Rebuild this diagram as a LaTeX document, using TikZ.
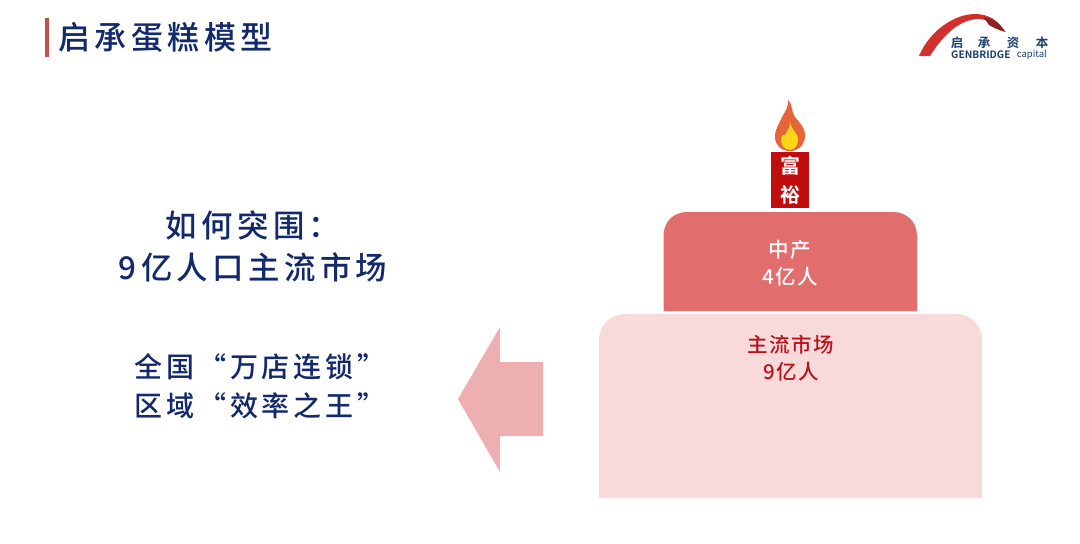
\documentclass[tikz,border=0pt]{standalone}
\usepackage{fontspec}
\setmainfont{Noto Sans CJK SC}[BoldFont={* Bold}]
\newfontfamily\cjkwide{Noto Sans CJK SC Medium}[LetterSpace=14]
\newfontfamily\cjkmid{Noto Sans CJK SC Medium}[LetterSpace=8]
\newfontfamily\cjkboldwide{Noto Sans CJK SC Medium}[LetterSpace=14]
\definecolor{navy}{HTML}{12296B}
\definecolor{logoblue}{HTML}{1B3F6E}
\definecolor{logored}{HTML}{D0312D}
\definecolor{logodark}{HTML}{8E2220}
\definecolor{barred}{HTML}{C8504C}
\definecolor{tiermid}{HTML}{E16D6C}
\definecolor{tierlow}{HTML}{F9DADA}
\definecolor{arrowpink}{HTML}{EEAFB0}
\definecolor{candle}{HTML}{C00D0D}
\definecolor{flameout}{HTML}{E8643A}
\definecolor{flamein}{HTML}{FBD615}
\definecolor{lowred}{HTML}{B5141C}
\tikzset{
  headline/.style={inner sep=0pt,text=navy,font=\fontsize{32}{32}\selectfont\cjkboldwide},
  bigtext/.style={inner sep=0pt,text=navy,align=center,font=\fontsize{31.4}{42}\selectfont\cjkboldwide},
  subtext/.style={inner sep=0pt,text=navy,align=center,font=\fontsize{28}{39}\selectfont\cjkwide},
  tierlabel/.style={inner sep=0pt,align=center,font=\fontsize{20.5}{27}\selectfont\cjkmid},
  logochar/.style={inner sep=0pt,text=logoblue,font=\fontsize{12.5}{12.5}\selectfont\bfseries},
}
\begin{document}
\begin{tikzpicture}[x=1pt,y=-1pt]
\useasboundingbox (0,0) rectangle (1080,544);
\fill[white] (0,0) rectangle (1080,544);
% title
\fill[barred] (45,18) rectangle (48.5,57);
\node[headline,anchor=west] (title) at (58,37) {启承蛋糕模型};
% logo
\fill[logored] (919,56) .. controls (930,30) and (955,14) .. (975,14)
  .. controls (989,14) and (999,21) .. (1005,32)
  .. controls (998,28) and (992,20) .. (979,19)
  .. controls (962,19) and (945,32) .. (930,56) -- cycle;
\fill[logodark] (983,17) .. controls (994,18) and (1000,24) .. (1005.5,32)
  .. controls (998,30) and (992,27) .. (989,25) .. controls (987,22) and (985,19) .. (983,17) -- cycle;
\node[logochar] (logocn1) at (957,43) {启};
\node[logochar] (logocn2) at (984,43) {承};
\node[logochar] (logocn3) at (1013,43) {资};
\node[logochar] (logocn4) at (1042,43) {本};
\node[inner sep=0pt,anchor=west,text=logoblue,font=\fontsize{10.2}{10}\selectfont\bfseries] (logoen) at (951,55) {GENBRIDGE};
\node[inner sep=0pt,anchor=east,text=logoblue,font=\fontsize{9.5}{10}\selectfont] (logocap) at (1047,55) {capital};
% left text
\node[bigtext] (q) at (253,246) {如何突围：\\9亿人口主流市场};
\node[subtext] (a) at (260,386) {全国“万店连锁”\\区域“效率之王”};
% arrow
\fill[arrowpink] (543,362) -- (500,362) -- (500,327) -- (458,399) -- (500,472) -- (500,436) -- (543,436) -- cycle;
% cake
\fill[tierlow,rounded corners=26pt] (599,498) [sharp corners] -- (599,420) [rounded corners=26pt] -- (599,314) -- (982,314) [sharp corners] -- (982,420) -- (982,498) -- cycle;
\fill[tiermid] (663.5,311) -- (663.5,236) .. controls (663.5,222) and (673,212) .. (687.5,212)
   -- (893,212) .. controls (907,212) and (917,222) .. (917,236) -- (917,311) -- cycle;
\fill[candle] (771,152) rectangle (809,208);
% flame
\fill[flameout] (788,100) .. controls (793,104) and (791,112) .. (795,117)
  .. controls (801,124) and (806,130) .. (805,137)
  .. controls (804,146) and (798,151) .. (790,151)
  .. controls (781,151) and (775,145) .. (775,137)
  .. controls (775,128) and (780,123) .. (782,117)
  .. controls (785,112) and (789,106) .. (788,100) -- cycle;
\fill[flamein] (790,122) .. controls (791,128) and (795,132) .. (797,135)
  .. controls (800,142) and (796,150) .. (790,150)
  .. controls (784,150) and (780,144) .. (781,138)
  .. controls (782,135) and (784,134) .. (785,135)
  .. controls (787,131) and (790,128) .. (790,122) -- cycle;
\node[inner sep=0pt,text=white,align=center,font=\fontsize{20}{29}\selectfont\bfseries] (rich) at (790.5,180) {富\\裕};
\node[tierlabel,text=white] (mid) at (790,263) {中产\\4亿人};
\node[tierlabel,text=lowred] (low) at (791,358) {主流市场\\9亿人};
\end{tikzpicture}
\end{document}
